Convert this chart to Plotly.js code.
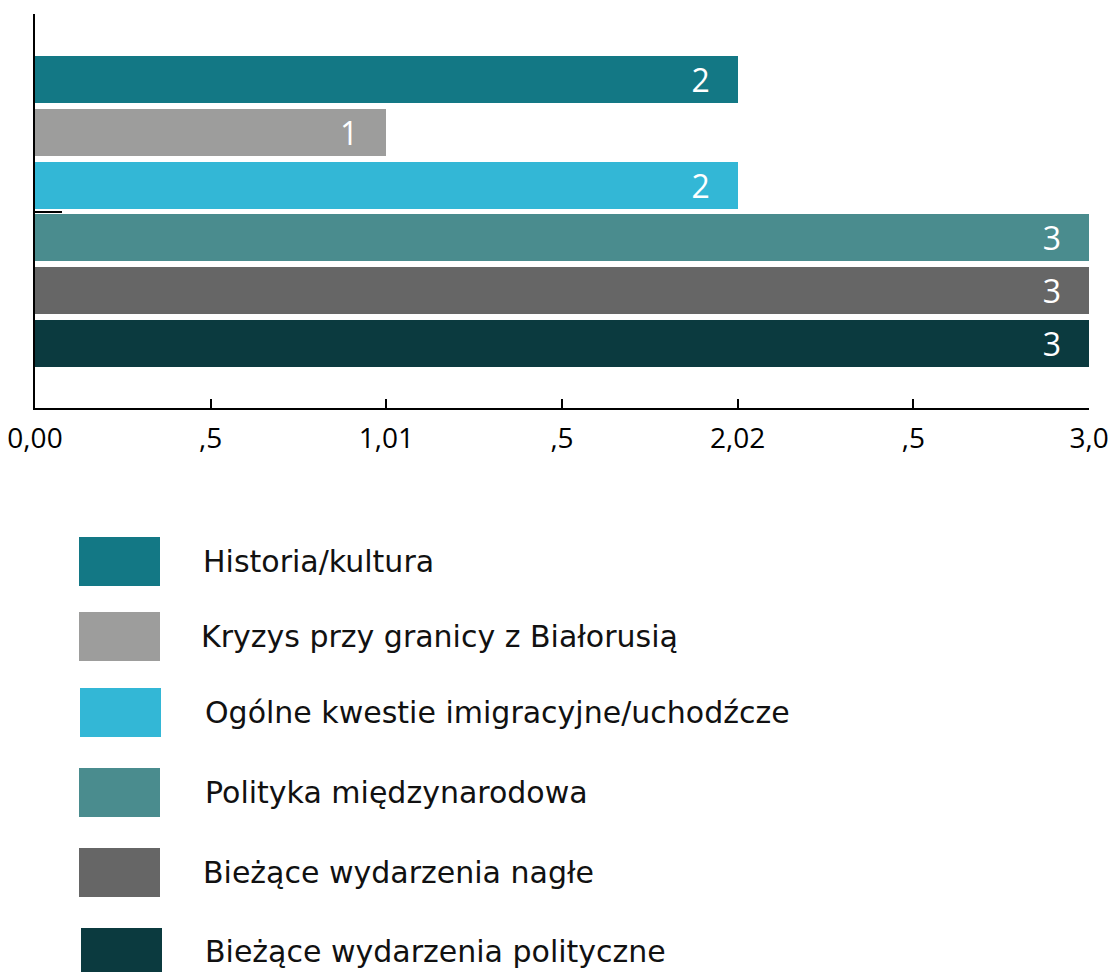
<!DOCTYPE html>
<html><head><meta charset="utf-8">
<script src="https://cdn.plot.ly/plotly-3.0.1.min.js"></script>
<style>body{margin:0;background:#fff}#chart{width:1115px;height:972px}</style>
</head><body><div id="chart"></div>
<script>
const categories = ["Historia/kultura","Kryzys przy granicy z Białorusią","Ogólne kwestie imigracyjne/uchodźcze","Polityka międzynarodowa","Bieżące wydarzenia nagłe","Bieżące wydarzenia polityczne"];
const values = [2,1,2,3,3,3];
const colors = ["#137885","#9d9d9c","#33b7d6","#4a8c8e","#666666","#0b3a3f"];
const xTickVals = [0,0.5,1,1.5,2,2.5,3];
const xTickText = ["0,00",",5","1,01",",5","2,02",",5","3,0"];

const W=1115,H=972,L=35,R=26,T=14,B=564;
const pw=W-L-R, ph=H-T-B;
const px=x=>(x-L)/pw, py=y=>(H-B-y)/ph;

const idx = categories.map((c,i)=>i);
const trace = {
  type:'bar', orientation:'h', y:idx, x:values,
  marker:{color:colors}, width:0.89,
  text:values.map(v=>String(v)+'\u00a0\u00a0\u00a0'), textposition:'inside', insidetextanchor:'end',
  textangle:0, constraintext:'none',
  textfont:{family:'Open Sans',size:32,color:'#fff'},
  hoverinfo:'none', cliponaxis:false
};

const shapes=[], annotations=[];
const boxL=[79,79,80,79,79,81], boxT=[537,612,688,768,848,928];
const txtX=[201,199,203,203,201,203];
categories.forEach((c,i)=>{
  shapes.push({type:'rect',xref:'paper',yref:'paper',x0:px(boxL[i]),x1:px(boxL[i]+81),y0:py(boxT[i]),y1:py(boxT[i]+49),fillcolor:colors[i],line:{width:0}});
  annotations.push({xref:'paper',yref:'paper',x:px(txtX[i]),y:py(boxT[i]+24),xanchor:'left',yanchor:'middle',showarrow:false,text:c,font:{family:'DejaVu Sans',size:30,color:'#111'}});
});

const layout = {
  width:W,height:H,margin:{l:L,r:R,t:T,b:B},
  paper_bgcolor:'#fff',plot_bgcolor:'#fff',showlegend:false,
  xaxis:{range:[0,3],tickvals:xTickVals,ticktext:xTickText,ticks:'inside',ticklen:9,tickwidth:2,tickcolor:'#000',
    showline:true,linecolor:'#000',linewidth:2,showgrid:false,zeroline:false,ticklabelstandoff:4,
    tickfont:{family:'Open Sans',size:28,color:'#000'}},
  yaxis:{range:[6.22,-1.24],tickvals:[2.5],ticktext:[''],ticks:'inside',ticklen:27,tickwidth:2,tickcolor:'#000',
    showline:true,linecolor:'#000',linewidth:2,showgrid:false,zeroline:false},
  shapes:shapes, annotations:annotations, bargap:0
};
Plotly.newPlot('chart',[trace],layout,{staticPlot:true});
</script></body></html>
